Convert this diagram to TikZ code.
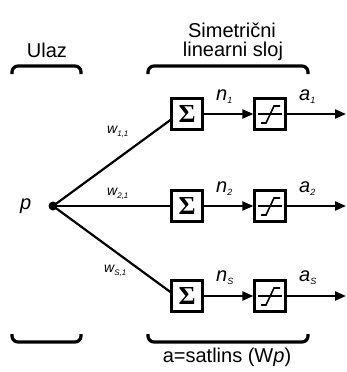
\documentclass[tikz,border=0pt]{standalone}
\usepackage{fontspec}
\setmainfont{Liberation Sans}
\newfontfamily\sigmafont{Liberation Serif}
\usetikzlibrary{arrows.meta}
\newcommand\mysub[1]{\raisebox{-3pt}{\fontsize{9}{9}\selectfont #1}}
\newcommand\wsub[1]{\raisebox{-3pt}{\fontsize{8}{8}\selectfont #1}}
\begin{document}
\begin{tikzpicture}[x=1pt,y=-1pt,
 box/.style={draw,line width=2.2pt,minimum width=31pt,minimum height=31pt,inner sep=0pt,fill=white},
 conn/.style={line width=2.2pt},
 arr/.style={line width=2.2pt,-{Triangle[length=11pt,width=9pt]}},
 brk/.style={line width=3.2pt,rounded corners=6pt},
 sym/.style={line width=1.6pt},
 lbl/.style={font=\fontsize{20}{24}\selectfont,inner sep=0pt,anchor=base},
 var/.style={font=\fontsize{20}{24}\selectfont\itshape,inner sep=0pt,anchor=base west},
 wl/.style={font=\fontsize{14}{16}\selectfont\itshape,inner sep=0pt,anchor=base west}]
\useasboundingbox (0,0) rectangle (347,372);

% texts
\node[lbl] (ulaz) at (47,57) {Ulaz};
\node[lbl] (sim) at (232,37) {Simetrični};
\node[lbl] (lin) at (233,56) {linearni sloj};
\node[lbl] (form) at (227,362) {a=satlins (W\textit{p})};

% brackets
\draw[brk] (12,74) -- (12,66) -- (81,66) -- (81,74);
\draw[brk] (148,74) -- (148,66) -- (308,66) -- (308,74);
\draw[brk] (12,334) -- (12,342) -- (81,342) -- (81,334);
\draw[brk] (148,334) -- (148,342) -- (308,342) -- (308,334);

% input
\node[circle,fill,inner sep=0pt,minimum size=9pt] (p) at (53,206) {};
\node[var] (plbl) at (20,209) {p};

% boxes
\foreach \i/\y in {1/114,2/206,3/296}{
  \node[box] (s\i) at (187,\y) {\fontsize{26}{26}\selectfont\sigmafont\bfseries Σ};
  \node[box] (f\i) at (270,\y) {};
  \coordinate (o\i) at (346,\y);
  \draw[sym] ([shift={(-12,0)}]f\i.center) -- ([shift={(12,0)}]f\i.center);
  \draw[sym] ([shift={(-9,9)}]f\i.center) -- ([shift={(-4,9)}]f\i.center)
     -- ([shift={(4,-8)}]f\i.center) -- ([shift={(10,-8)}]f\i.center);
  \draw[arr] (s\i.east) -- (f\i.west);
  \draw[arr] (f\i.east) -- (o\i);
}

% connections from input
\draw[conn] (p.center) -- ([yshift=-6pt]s1.west);
\draw[conn] (p.center) -- (s2.west);
\draw[conn] (p.center) -- ([yshift=4pt]s3.west);

% weight labels
\node[wl] (w1) at (107,133) {w\wsub{1,1}};
\node[wl] (w2) at (107,195) {w\wsub{2,1}};
\node[wl] (w3) at (104,272) {w\wsub{\textit{S},1}};

% n and a labels
\node[var] (n1) at (216,100) {n\mysub{1}};
\node[var] (a1) at (299,100) {a\mysub{1}};
\node[var] (n2) at (216,192) {n\mysub{2}};
\node[var] (a2) at (299,192) {a\mysub{2}};
\node[var] (n3) at (216,281) {n\mysub{\textit{S}}};
\node[var] (a3) at (299,281) {a\mysub{\textit{S}}};
\end{tikzpicture}
\end{document}
